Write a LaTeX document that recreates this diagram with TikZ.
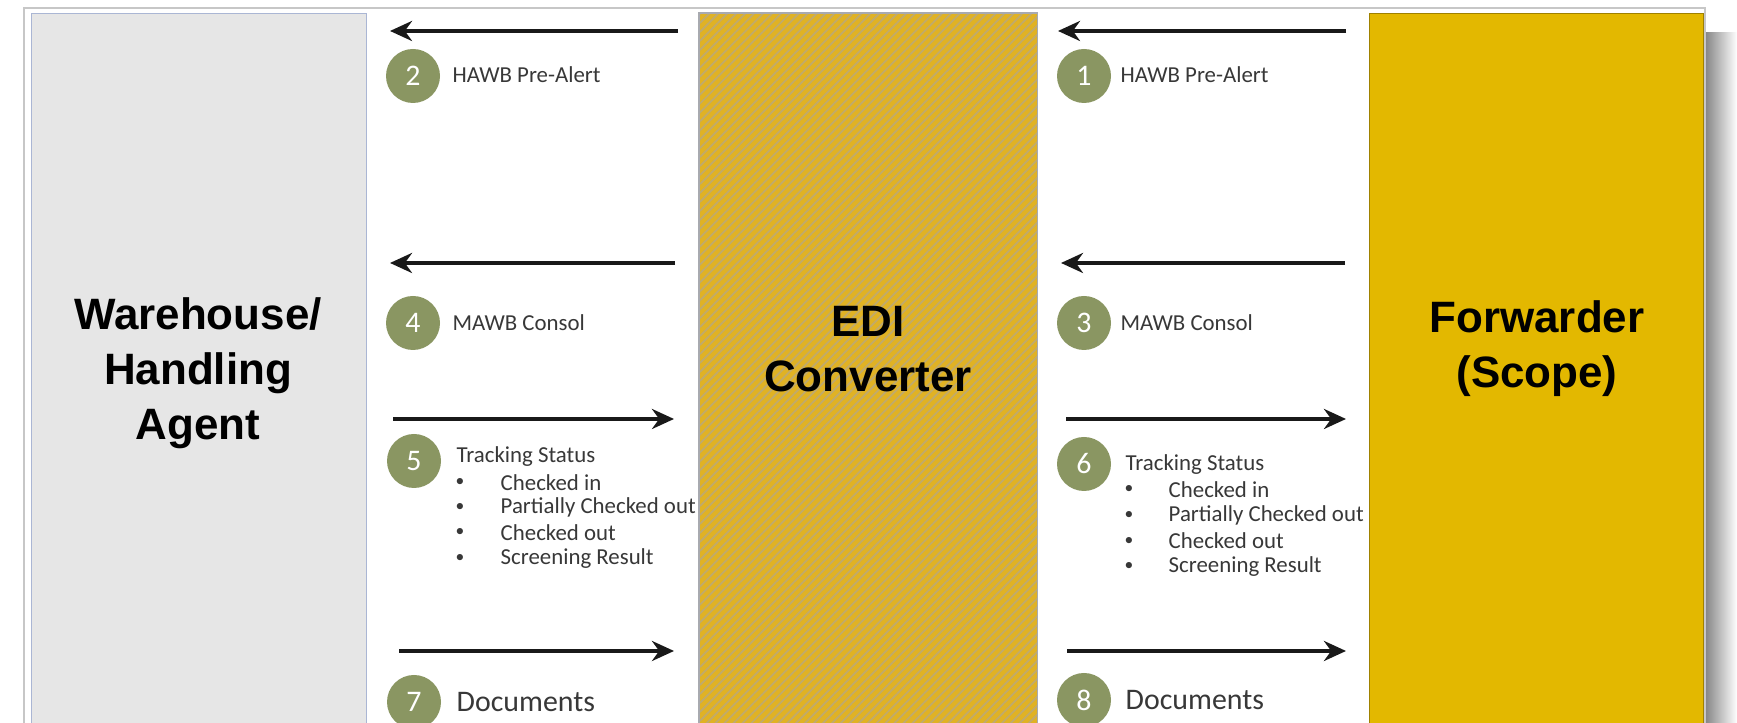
\documentclass[tikz,border=0pt]{standalone}
\usepackage{fontspec}
\setmainfont{Carlito}
\newfontfamily\headfont{Liberation Sans}
\usetikzlibrary{arrows.meta, patterns.meta}
\definecolor{whgray}{RGB}{230,230,230}
\definecolor{whedge}{RGB}{170,182,212}
\definecolor{edigold}{RGB}{224,178,36}
\definecolor{edistripe}{RGB}{192,170,108}
\definecolor{ediedge}{RGB}{168,170,176}
\definecolor{fwdgold}{RGB}{227,184,0}
\definecolor{numgreen}{RGB}{138,150,98}
\tikzset{
    num/.style={circle, fill=numgreen, minimum size=5.4mm, inner sep=0mm, text=white, font=\fontsize{8.5}{9}\selectfont},
    msg/.style={anchor=west, inner sep=0mm, text=black!78, font=\fontsize{6.5}{8}\selectfont},
    flow/.style={line width=1.2pt, black!90, -{Stealth[length=2.2mm, width=2mm]}},
    party/.style={align=center, font=\headfont\bfseries\fontsize{12.5}{15.6}\selectfont}
}
\begin{document}
\begin{tikzpicture}
    \useasboundingbox (0,0) rectangle (17.37,-7.23);
    \clip (0,0) rectangle (17.37,-7.23);
    \shade[left color=black!48, right color=white] (17.05,-0.33) rectangle (17.37,-7.4);
    \draw[black!22, fill=white] (0.24,-0.08) rectangle (17.05,-7.5);

    \node (wh) at (0.31,-0.13)[anchor=north west, draw=whedge, fill=whgray, minimum width=3.35cm, minimum height=7.4cm]{};
    \node (edi) at (6.99,-0.13)[anchor=north west, fill=edigold, minimum width=3.37cm, minimum height=7.4cm]{};
    \fill[pattern={Lines[angle=45, distance=1.8pt, line width=0.5pt]}, pattern color=edistripe] (edi.north west) rectangle (edi.south east);
    \draw[ediedge] (edi.north west) rectangle (edi.south east);
    \node (fwd) at (13.69,-0.13)[anchor=north west, draw=black!30!fwdgold, fill=fwdgold, minimum width=3.34cm, minimum height=7.4cm]{};

    \node (whname) at (1.98,-3.73)[party]{Warehouse/\\Handling\\Agent};
    \node (ediname) at (8.68,-3.49)[party]{EDI\\Converter};
    \node (fwdname) at (15.37,-3.49)[party]{Forwarder\\(Scope)};

    \coordinate (f2s) at (6.78,-0.31);
    \coordinate (f2e) at (3.90,-0.31);
    \coordinate (f1s) at (13.46,-0.31);
    \coordinate (f1e) at (10.58,-0.31);
    \draw[flow] (f2s) -- (f2e);
    \draw[flow] (f1s) -- (f1e);
    \node (n2) at (4.13,-0.76)[num]{2};
    \node (t2) at (4.52,-0.75)[msg]{HAWB Pre-Alert};
    \node (n1) at (10.84,-0.76)[num]{1};
    \node (t1) at (11.20,-0.75)[msg]{HAWB Pre-Alert};

    \coordinate (f4s) at (6.75,-2.63);
    \coordinate (f4e) at (3.90,-2.63);
    \coordinate (f3s) at (13.45,-2.63);
    \coordinate (f3e) at (10.61,-2.63);
    \draw[flow] (f4s) -- (f4e);
    \draw[flow] (f3s) -- (f3e);
    \node (n4) at (4.13,-3.23)[num]{4};
    \node (t4) at (4.52,-3.23)[msg]{MAWB Consol};
    \node (n3) at (10.84,-3.23)[num]{3};
    \node (t3) at (11.20,-3.23)[msg]{MAWB Consol};

    \coordinate (f5s) at (3.93,-4.19);
    \coordinate (f5e) at (6.74,-4.19);
    \coordinate (f6s) at (10.66,-4.19);
    \coordinate (f6e) at (13.46,-4.19);
    \draw[flow] (f5s) -- (f5e);
    \draw[flow] (f6s) -- (f6e);
    \node (n5) at (4.14,-4.61)[num]{5};
    \node (t5) at (4.56,-4.57)[msg]{Tracking Status};
    \node (n6) at (10.84,-4.64)[num]{6};
    \node (t6) at (11.25,-4.65)[msg]{Tracking Status};
    \foreach \entry [count=\i] in {Checked in, Partially Checked out, Checked out, Screening Result}{
        \node (b5\i) at (4.60,-4.57-0.253*\i)[msg, anchor=center, font=\fontsize{5}{6}\selectfont]{\textbullet};
        \node (s5\i) at (5.00,-4.57-0.253*\i)[msg]{\entry};
        \node (b6\i) at (11.29,-4.64-0.257*\i)[msg, anchor=center, font=\fontsize{5}{6}\selectfont]{\textbullet};
        \node (s6\i) at (11.68,-4.64-0.257*\i)[msg]{\entry};
    }

    \coordinate (f7s) at (3.99,-6.51);
    \coordinate (f7e) at (6.74,-6.51);
    \coordinate (f8s) at (10.67,-6.51);
    \coordinate (f8e) at (13.46,-6.51);
    \draw[flow] (f7s) -- (f7e);
    \draw[flow] (f8s) -- (f8e);
    \node (n7) at (4.14,-7.02)[num]{7};
    \node (t7) at (4.56,-7.02)[msg, font=\fontsize{8.5}{10}\selectfont]{Documents};
    \node (n8) at (10.84,-7.00)[num]{8};
    \node (t8) at (11.25,-7.00)[msg, font=\fontsize{8.5}{10}\selectfont]{Documents};
\end{tikzpicture}
\end{document}
